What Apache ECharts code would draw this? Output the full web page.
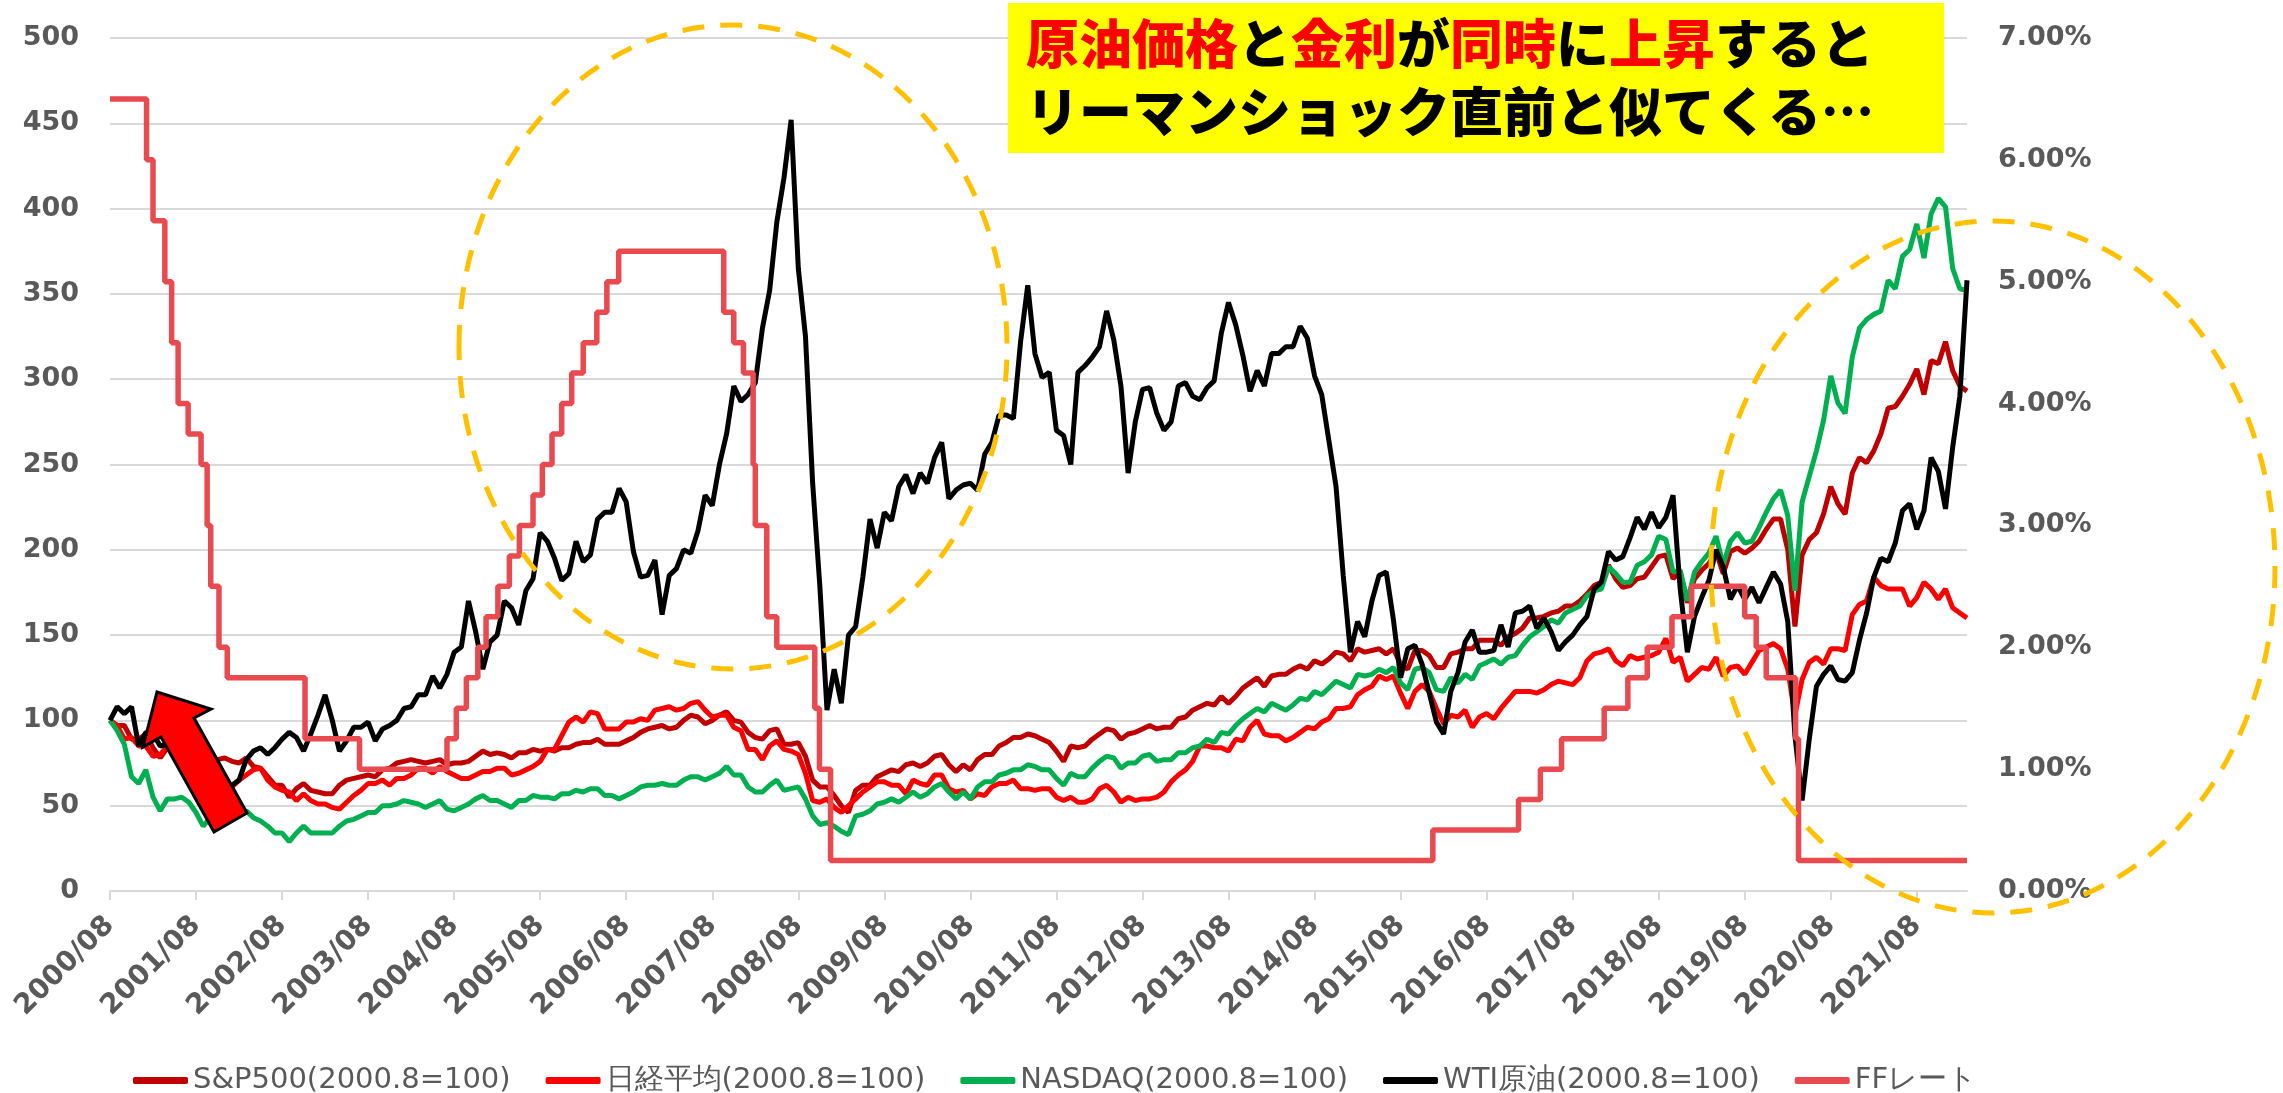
<!DOCTYPE html>
<html>
<head>
<meta charset="utf-8">
<title>原油価格と金利</title>
<script src="https://cdn.jsdelivr.net/npm/echarts/dist/echarts.min.js"></script>
<style>
  body { margin: 0; background: #fff; }
  #main { width: 2283px; height: 1093px; }
</style>
</head>
<body>
<div id="main"></div>
<script type="text/javascript">

// monthly values, index 0 = 2000/08, last = 2022/03
var sp500 = [
  100, 97, 97, 89, 89,
  92, 84, 78, 84, 85, 83, 82, 77, 70, 72, 77, 78,
  76, 75, 78, 73, 72, 67, 62, 62, 55, 60, 63, 59,
  58, 57, 57, 62, 65, 66, 67, 68, 67, 71, 72, 75,
  76, 77, 76, 75, 76, 77, 74, 75, 75, 76, 79, 82,
  80, 81, 80, 78, 81, 81, 83, 82, 83, 82, 84, 84,
  86, 87, 87, 89, 86, 86, 86, 88, 90, 93, 95, 96,
  97, 95, 96, 100, 103, 102, 98, 100, 103, 105, 100, 99,
  93, 90, 89, 94, 95, 86, 86, 87, 79, 65, 61, 61,
  56, 50, 46, 59, 62, 62, 67, 69, 71, 70, 74, 75,
  73, 75, 79, 80, 74, 70, 74, 71, 77, 80, 80, 85,
  87, 90, 90, 92, 91, 89, 87, 82, 76, 85, 84, 85,
  89, 92, 95, 94, 89, 92, 93, 95, 97, 95, 96, 96,
  101, 102, 106, 108, 110, 109, 114, 110, 114, 119, 122, 125,
  120, 126, 127, 127, 130, 132, 130, 135, 133, 136, 140, 139,
  135, 142, 140, 141, 142, 139, 142, 133, 130, 141, 141, 138,
  131, 131, 139, 140, 142, 142, 147, 147, 147, 144, 149, 151,
  154, 160, 160, 161, 163, 164, 167, 167, 170, 174, 179, 181,
  191, 183, 178, 179, 183, 184, 190, 196, 197, 183, 187, 169,
  183, 188, 192, 199, 186, 199, 201, 198, 201, 205, 212, 218,
  218, 200, 155, 197, 206, 210, 221, 237, 227, 221, 245, 254,
  251, 258, 268, 283, 284, 290, 297, 306, 291, 311, 309, 322,
  305, 296, 293
];

var nikkei = [
  100, 97, 89, 90, 85,
  85, 79, 80, 85, 81, 80, 73, 66, 60, 64, 66, 65,
  61, 65, 68, 71, 72, 65, 61, 59, 58, 53, 57, 53,
  51, 51, 49, 48, 52, 56, 59, 63, 63, 65, 62, 66,
  66, 68, 72, 72, 69, 73, 70, 68, 66, 66, 68, 70,
  70, 72, 72, 68, 69, 71, 73, 76, 83, 83, 91, 99,
  102, 99, 105, 104, 95, 95, 95, 99, 99, 101, 100, 106,
  107, 108, 106, 107, 110, 111, 106, 102, 103, 103, 96, 94,
  83, 83, 77, 85, 88, 83, 82, 80, 69, 53, 52, 54,
  49, 46, 50, 54, 58, 61, 64, 64, 62, 62, 57, 65,
  63, 62, 68, 68, 60, 58, 59, 54, 57, 56, 61, 63,
  63, 65, 60, 60, 59, 60, 60, 55, 53, 55, 52, 52,
  54, 60, 62, 58, 52, 55, 53, 54, 54, 55, 58, 64,
  68, 71, 76, 85, 85, 84, 84, 82, 89, 88, 96, 100,
  92, 91, 91, 88, 90, 93, 96, 95, 99, 101, 107, 107,
  108, 115, 118, 120, 126, 124, 126, 116, 107, 117, 121, 117,
  107, 98, 103, 102, 106, 96, 102, 104, 101, 107, 112, 117,
  117, 117, 116, 118, 121, 123, 122, 121, 125, 135, 139, 140,
  142, 135, 132, 138, 136, 137, 138, 140, 148, 134, 137, 123,
  127, 131, 130, 137, 126, 131, 132, 127, 134, 141, 143, 145,
  142, 130, 103, 124, 134, 137, 133, 142, 142, 141, 162, 168,
  170, 184, 179, 177, 177, 177, 167, 172, 181, 177, 171, 177,
  166, 163, 160
];

var nasdaq = [
  100, 94, 86, 67, 63,
  71, 55, 47, 54, 54, 55, 52, 46, 38, 43, 50, 50,
  50, 44, 47, 43, 41, 38, 34, 34, 29, 34, 38, 34,
  34, 34, 34, 38, 41, 42, 44, 46, 46, 50, 50, 51,
  53, 52, 51, 49, 51, 53, 48, 47, 49, 51, 54, 56,
  53, 53, 51, 49, 53, 53, 56, 55, 55, 54, 57, 57,
  59, 58, 60, 60, 56, 56, 54, 56, 58, 61, 62, 62,
  63, 62, 62, 65, 67, 67, 65, 67, 69, 73, 68, 68,
  61, 58, 58, 62, 65, 59, 60, 61, 54, 44, 39, 40,
  38, 35, 33, 44, 45, 47, 51, 52, 54, 52, 55, 58,
  55, 57, 61, 63, 58, 54, 58, 54, 61, 64, 64, 68,
  69, 71, 71, 74, 73, 71, 71, 66, 62, 69, 67, 67,
  72, 76, 79, 78, 72, 75, 75, 79, 80, 76, 77, 77,
  81, 81, 84, 85, 89, 87, 93, 92, 97, 101, 104, 107,
  105, 110, 108, 106, 109, 113, 112, 117, 115, 119, 123, 121,
  119, 127, 126, 127, 130, 128, 131, 122, 118, 130, 131, 128,
  118, 117, 125, 122, 127, 124, 132, 134, 136, 133, 137, 138,
  144, 149, 152, 155, 159, 157, 163, 165, 167, 173, 176, 177,
  190, 186, 181, 181, 191, 193, 197, 208, 206, 187, 188, 170,
  187, 193, 198, 208, 191, 205, 210, 204, 205, 213, 222, 230,
  235, 220, 176, 228, 243, 258, 276, 302, 286, 280, 313, 330,
  335, 338, 340, 358, 353, 372, 376, 391, 371, 397, 406, 401,
  365, 353, 352
];

var wti = [
  100, 108, 104, 108, 85,
  93, 92, 85, 86, 89, 86, 82, 86, 82, 69, 61, 60,
  62, 65, 77, 82, 84, 80, 84, 89, 93, 90, 82, 92,
  103, 115, 100, 82, 88, 96, 96, 99, 88, 95, 97, 100,
  107, 108, 115, 115, 126, 119, 127, 140, 143, 170, 152, 130,
  146, 150, 170, 166, 156, 176, 183, 210, 205, 195, 182, 186,
  205, 193, 197, 218, 222, 222, 236, 228, 199, 184, 185, 194,
  162, 185, 189, 200, 198, 211, 232, 226, 250, 268, 296, 287,
  291, 298, 330, 352, 392, 418, 452, 365, 325, 239, 179, 106,
  130, 110, 150, 155, 184, 218, 201, 222, 217, 237, 244, 233,
  245, 239, 254, 263, 230, 235, 238, 239, 235, 256, 263, 279,
  279, 277, 322, 355, 315, 301, 304, 270, 267, 250, 304, 308,
  313, 319, 340, 323, 296, 245, 275, 294, 295, 280, 270, 275,
  296, 298, 290, 288, 295, 299, 327, 345, 332, 314, 293, 305,
  296, 315, 315, 319, 319, 331, 324, 302, 291, 264, 237, 185,
  140, 158, 149, 170, 185, 187, 159, 125, 142, 144, 133, 116,
  99, 92, 117, 128, 146, 153, 140, 140, 141, 156, 143, 163,
  164, 167, 154, 160, 152, 141, 146, 150, 156, 161, 177, 181,
  199, 194, 196, 207, 219, 212, 222, 213, 219, 232, 177, 140,
  161, 172, 182, 200, 190, 171, 179, 171, 178, 169, 178, 187,
  180, 158, 91, 53, 89, 120, 127, 132, 124, 123, 128, 147,
  163, 184, 195, 193, 204, 223, 227, 212, 223, 254, 246, 224,
  260, 290, 358
];

// FF rate: month position of each change (0 = 2000/08) and the new rate (%)
var ffMonth = [0, 5.1, 6.0, 7.65, 8.6, 9.5, 10.9, 12.7, 13.55, 14.05, 15.2, 16.35,
  27.2, 34.8, 47.0, 48.3, 49.7, 51.3, 52.45, 54.1, 55.7, 57.1, 59.0, 60.3, 61.65,
  63.0, 64.4, 66.0, 67.9, 69.3, 70.95, 85.6, 87.0, 88.35, 89.7, 90.0, 91.6, 93.0,
  98.3, 98.95, 100.5, 184.5, 196.45, 199.5, 202.45, 208.4, 211.7, 214.4, 217.85,
  220.6, 228.0, 229.6, 231.0, 235.1, 235.5, 259];
var ffRate = [6.5, 6.0, 5.5, 5.0, 4.5, 4.0, 3.75, 3.5, 3.0, 2.5, 2.0, 1.75,
  1.25, 1.0, 1.25, 1.5, 1.75, 2.0, 2.25, 2.5, 2.75, 3.0, 3.25, 3.5, 3.75,
  4.0, 4.25, 4.5, 4.75, 5.0, 5.25, 4.75, 4.5, 4.25, 3.5, 3.0, 2.25, 2.0,
  1.5, 1.0, 0.25, 0.5, 0.75, 1.0, 1.25, 1.5, 1.75, 2.0, 2.25,
  2.5, 2.25, 2.0, 1.75, 1.25, 0.25, 0.25];

var tickLabels = ['2000/08', '2001/08', '2002/08', '2003/08', '2004/08', '2005/08',
  '2006/08', '2007/08', '2008/08', '2009/08', '2010/08', '2011/08', '2012/08',
  '2013/08', '2014/08', '2015/08', '2016/08', '2017/08', '2018/08', '2019/08',
  '2020/08', '2021/08'];
var tickPos = tickLabels.map(function (t, i) { return i * 12; });

var names = ['S&P500(2000.8=100)', '日経平均(2000.8=100)', 'NASDAQ(2000.8=100)', 'WTI原油(2000.8=100)', 'FFレート'];
var colors = ['#C00000', '#FF0000', '#00B050', '#000000', '#E84A50'];

function toPoints(arr) {
  return arr.map(function (v, i) { return [i, v]; });
}

function lineSeries(k, data) {
  return {
    name: names[k],
    type: 'line',
    data: data,
    showSymbol: false,
    symbol: 'none',
    color: colors[k],
    itemStyle: { color: colors[k] },
    lineStyle: { color: colors[k], width: 5 }
  };
}

var gray = '#595959';
var labelFont = { fontFamily: 'DejaVu Sans', fontWeight: 'bold', fontSize: 27, color: gray };

var myChart = echarts.init(document.getElementById('main'));

var ffSeries = lineSeries(4, ffMonth.map(function (m, i) { return [m, ffRate[i]]; }));
ffSeries.yAxisIndex = 1;
ffSeries.step = 'end';
ffSeries.lineStyle.width = 5.5;

myChart.setOption({
  animation: false,
  backgroundColor: '#ffffff',
  grid: { left: 110, right: 316, top: 38, bottom: 202 },
  legend: {
    data: names,
    left: 128,
    top: 1061,
    itemWidth: 55,
    itemHeight: 7,
    itemGap: 35,
    icon: 'roundRect',
    textStyle: { fontFamily: 'DejaVu Sans', fontSize: 29, color: gray }
  },
  xAxis: {
    type: 'value',
    min: 0,
    max: 259,
    axisLine: { lineStyle: { color: '#D9D9D9', width: 2 } },
    axisTick: { show: true, customValues: tickPos, length: 9, lineStyle: { color: '#D9D9D9', width: 2 } },
    splitLine: { show: false },
    axisLabel: Object.assign({
      customValues: tickPos,
      rotate: 45,
      margin: 30,
      formatter: function (v) { return tickLabels[Math.round(v / 12)]; }
    }, labelFont, { fontSize: 28 })
  },
  yAxis: [
    {
      type: 'value',
      min: 0,
      max: 500,
      interval: 50,
      axisLine: { show: false },
      axisTick: { show: false },
      splitLine: { lineStyle: { color: '#D9D9D9', width: 2 } },
      axisLabel: Object.assign({ margin: 31 }, labelFont)
    },
    {
      type: 'value',
      position: 'right',
      min: 0,
      max: 7,
      interval: 1,
      axisLine: { show: false },
      axisTick: { show: false },
      splitLine: { show: false },
      axisLabel: Object.assign({
        margin: 31,
        formatter: function (v) { return v.toFixed(2) + '%'; }
      }, labelFont)
    }
  ],
  series: [
    lineSeries(0, toPoints(sp500)),
    lineSeries(1, toPoints(nikkei)),
    lineSeries(2, toPoints(nasdaq)),
    lineSeries(3, toPoints(wti)),
    ffSeries
  ],
  graphic: [
    {
      type: 'ellipse', z: 100,
      shape: { cx: 733, cy: 347, rx: 274, ry: 322 },
      style: { fill: null, stroke: '#FFC000', lineWidth: 5, lineDash: [22, 16] }
    },
    {
      type: 'ellipse', z: 100,
      shape: { cx: 1993, cy: 567, rx: 282, ry: 346 },
      style: { fill: null, stroke: '#FFC000', lineWidth: 5, lineDash: [22, 16] }
    },
    {
      type: 'polygon', z: 101,
      shape: { points: [[157, 692], [211, 709], [194, 718], [247, 813], [214, 832], [161, 737], [143, 747]] },
      style: { fill: '#FF0000', stroke: '#000000', lineWidth: 3 }
    },
    {
      type: 'rect', z: 102,
      shape: { x: 1008, y: 3, width: 936, height: 150 },
      style: { fill: '#FFFF00' }
    },
    {
      type: 'text', z: 103,
      x: 1026, y: 44,
      style: {
        text: '{r|原油価格}{k|と}{r|金利}{k|が}{r|同時}{k|に}{r|上昇}{k|すると}',
        verticalAlign: 'middle',
        rich: {
          r: { fill: '#FF0000', fontSize: 53, fontWeight: 900, fontFamily: 'Noto Sans CJK JP' },
          k: { fill: '#000000', fontSize: 53, fontWeight: 900, fontFamily: 'Noto Sans CJK JP' }
        }
      }
    },
    {
      type: 'text', z: 103,
      x: 1026, y: 112,
      style: {
        text: '{k|リーマンショック直前と似てくる…}',
        verticalAlign: 'middle',
        rich: {
          k: { fill: '#000000', fontSize: 53, fontWeight: 900, fontFamily: 'Noto Sans CJK JP' }
        }
      }
    }
  ]
});
</script>
</body>
</html>
